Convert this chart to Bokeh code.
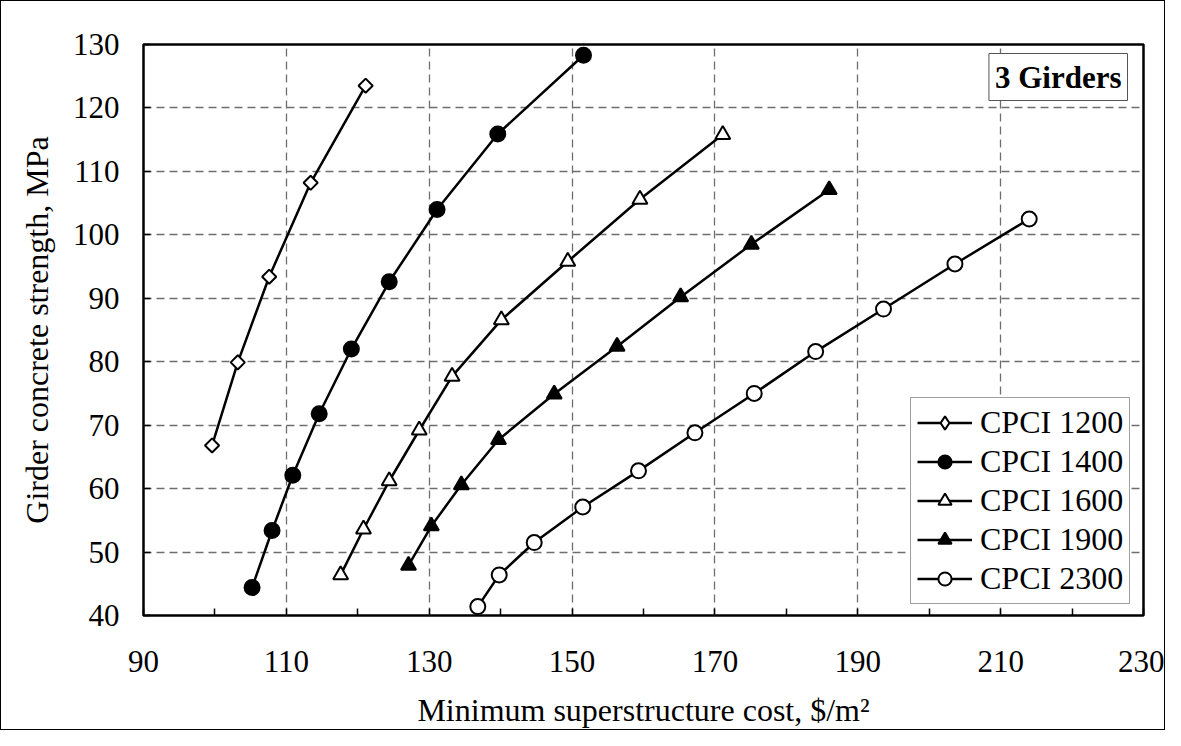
from math import pi
from bokeh.plotting import figure
from bokeh.models import (FixedTicker, Legend, LegendItem, Label, Range1d)
from bokeh.embed import file_html
from bokeh.resources import INLINE

FONT = "Liberation Serif"

# ---- data ----
x_1200 = [99.6, 103.2, 107.6, 113.4, 121.1]
y_1200 = [66.8, 79.9, 93.4, 108.2, 123.5]

x_1400 = [105.2, 108.0, 110.9, 114.6, 119.1, 124.4, 131.1, 139.6, 151.6]
y_1400 = [44.4, 53.4, 62.1, 71.8, 82.0, 92.6, 104.0, 115.9, 128.3]

x_1600 = [117.6, 120.8, 124.4, 128.6, 133.2, 140.1, 149.4, 159.5, 171.1]
y_1600 = [46.4, 53.6, 61.2, 69.2, 77.7, 86.6, 95.8, 105.6, 115.8]

x_1900 = [127.1, 130.3, 134.5, 139.7, 147.5, 156.3, 165.2, 175.1, 186.0]
y_1900 = [47.9, 54.1, 60.6, 67.7, 74.9, 82.4, 90.2, 98.5, 107.1]

x_2300 = [136.8, 139.8, 144.7, 151.5, 159.3, 167.2, 175.5, 184.1, 193.6, 203.6, 214.0]
y_2300 = [41.4, 46.4, 51.5, 57.1, 62.8, 68.8, 75.0, 81.6, 88.3, 95.4, 102.5]

series_names = ["CPCI 1200", "CPCI 1400", "CPCI 1600", "CPCI 1900", "CPCI 2300"]
x_ticks = [90, 110, 130, 150, 170, 190, 210, 230]
x_minor_ticks = [100, 120, 140, 160, 180, 200, 220]
y_ticks = [40, 50, 60, 70, 80, 90, 100, 110, 120, 130]
x_label = "Minimum superstructure cost, $/m\u00b2"
y_label = "Girder concrete strength, MPa"
title_text = "3 Girders"

p = figure(width=1165, height=730,
           x_range=Range1d(90, 230), y_range=Range1d(40, 130),
           output_backend="svg", toolbar_location=None,
           min_border_left=142, min_border_right=23,
           min_border_top=43, min_border_bottom=116,
           styles={"border": "1px solid black"})
p.background_fill_color = "white"
p.border_fill_color = "white"
p.outline_line_color = "black"
p.outline_line_width = 2.5

# axes
p.xaxis.ticker = FixedTicker(ticks=x_ticks, minor_ticks=x_minor_ticks)
p.yaxis.ticker = FixedTicker(ticks=y_ticks, minor_ticks=[])
for ax in (p.xaxis[0], p.yaxis[0]):
    ax.axis_line_color = None
    ax.major_tick_in = 7
    ax.major_tick_out = 0
    ax.minor_tick_in = 7
    ax.minor_tick_out = 0
    ax.major_tick_line_color = "black"
    ax.major_tick_line_width = 1.5
    ax.minor_tick_line_color = "black"
    ax.minor_tick_line_width = 1.5
    ax.major_label_text_font = FONT
    ax.major_label_text_font_size = "31px"
    ax.major_label_text_color = "black"
    ax.axis_label_text_font = FONT
    ax.axis_label_text_font_size = "32px"
    ax.axis_label_text_font_style = "normal"
    ax.axis_label_text_color = "black"
p.xaxis.axis_label = x_label
p.yaxis.axis_label = y_label
p.xaxis.major_label_standoff = 35
p.xaxis.axis_label_standoff = 17
p.yaxis.major_label_standoff = 24
p.yaxis.axis_label_standoff = 15

# grid
p.xgrid.ticker = FixedTicker(ticks=x_ticks)
p.ygrid.ticker = FixedTicker(ticks=y_ticks)
for g in (p.xgrid[0], p.ygrid[0]):
    g.grid_line_color = "#6e6e6e"
    g.grid_line_width = 1.3
    g.grid_line_dash = "8 5"

# series
styles = [
    ("square", "white", 10, pi / 4),
    ("circle", "black", 15, 0),
    ("triangle", "white", 15, 0),
    ("triangle", "black", 15, 0),
    ("circle", "white", 15, 0),
]
data = [(x_1200, y_1200), (x_1400, y_1400), (x_1600, y_1600),
        (x_1900, y_1900), (x_2300, y_2300)]

items = []
for i, (name, (xs, ys), (marker, fill, size, ang)) in enumerate(zip(series_names, data, styles)):
    ln = p.line(xs, ys, line_color="black", line_width=2.5)
    sc = p.scatter(xs, ys, marker=marker, size=size, angle=ang,
                   fill_color=fill, line_color="black", line_width=2)
    if i == 0:
        # legend sample: diamond glyph (hidden in the plot itself)
        sample = p.scatter(xs, ys, marker="diamond", size=17, fill_color=fill,
                           line_color="black", line_width=2, visible=False)
        items.append(LegendItem(label=name, renderers=[ln, sample]))
    else:
        items.append(LegendItem(label=name, renderers=[ln, sc]))

legend = Legend(items=items, location=(767, 11),
                glyph_width=55, glyph_height=33, label_height=33,
                spacing=2, padding=6, margin=0, label_standoff=8,
                label_text_font=FONT, label_text_font_size="32px",
                label_text_color="black",
                border_line_color="#404040", border_line_width=1,
                background_fill_color="white", background_fill_alpha=1,
                inactive_fill_alpha=0)
p.add_layout(legend)

title = Label(x=984, y=562, x_units="screen", y_units="screen",
              text=title_text, text_font=FONT, text_font_style="bold",
              text_font_size="31px", text_color="black",
              text_align="right", text_baseline="top",
              border_line_color="#555555", border_line_width=1,
              background_fill_color="white", padding=6)
p.add_layout(title)

open("out.html", "w").write(file_html(p, INLINE))
